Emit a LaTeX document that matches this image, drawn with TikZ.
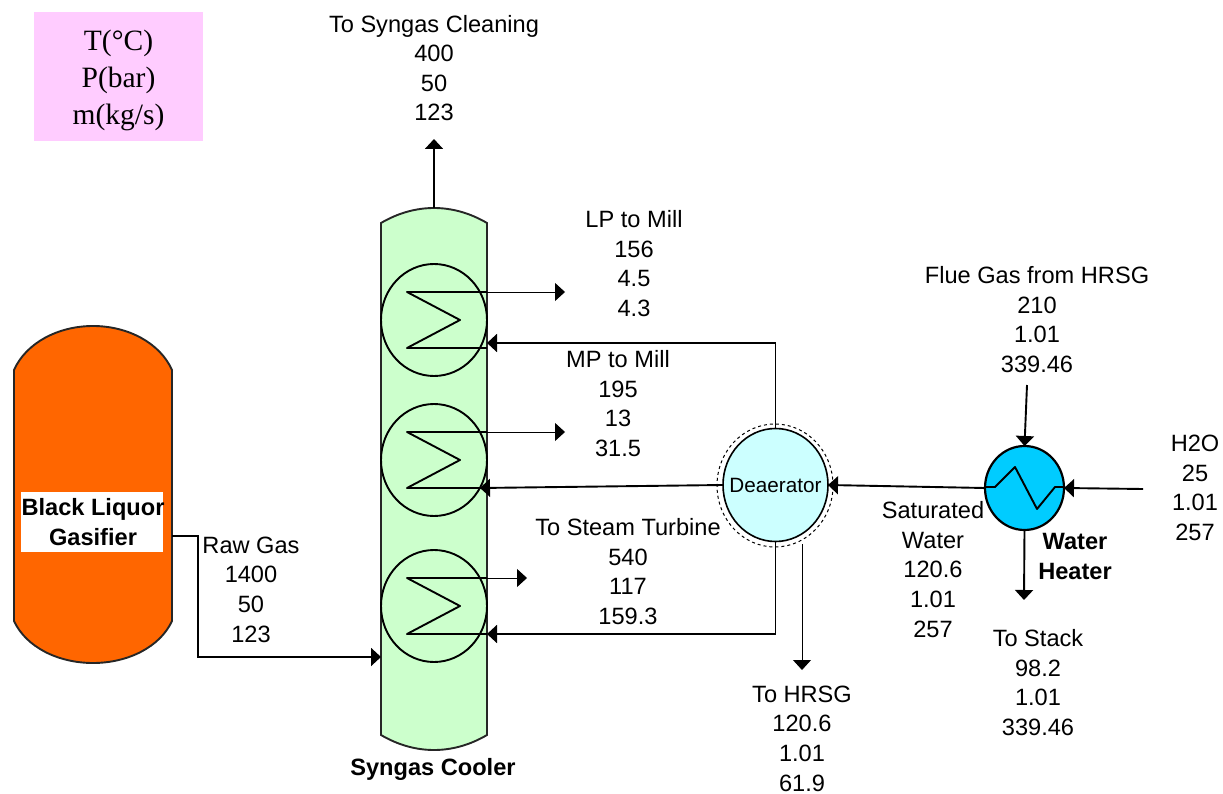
\documentclass[tikz,border=0pt]{standalone}
\usepackage{fontspec}
\setmainfont{Liberation Sans}
\newfontfamily\serifbox{Liberation Serif}
\usetikzlibrary{arrows.meta,shapes.geometric}
\definecolor{gasorange}{HTML}{FF6600}
\definecolor{coolgreen}{HTML}{CCFFCC}
\definecolor{deacyan}{HTML}{CCFFFF}
\definecolor{heatblue}{HTML}{00CCFF}
\definecolor{keypink}{HTML}{FFCCFF}
\tikzset{
  x=1pt,y=-1pt,
  tip/.style={-{Triangle[length=10pt,width=18pt]}},
  main/.style={line width=1.9pt,draw=black},
  thin line/.style={line width=0.9pt,draw=black},
  vessel/.style={line width=1.9pt,draw=black!85},
  coil/.style={line width=1.9pt,draw=black,line join=round},
  hxcirc/.style={ellipse,draw=black,line width=1.9pt,inner sep=0pt,outer sep=0pt,minimum width=106pt,minimum height=112pt},
  lab/.style={align=center,inner sep=0pt,font=\fontsize{23.6}{29.6}\selectfont},
  blab/.style={align=center,inner sep=0pt,font=\fontsize{23.6}{29.6}\selectfont\bfseries},
}
\begin{document}
\begin{tikzpicture}
\useasboundingbox (0,0) rectangle (1223,794);
% legend
\node[fill=keypink,minimum width=169pt,minimum height=129pt,inner sep=0pt,anchor=north west] (legend) at (34,12) {};
\node[align=center,inner sep=0pt,font=\serifbox\fontsize{29.5}{37}\selectfont] (legendtext) at (118.5,80) {T(°C)\\P(bar)\\m(kg/s)};
% gasifier
\draw[vessel,fill=gasorange] (14,370) .. controls (26,343) and (58,326) .. (93,326) .. controls (128,326) and (160,343) .. (172,370) -- (172,621) .. controls (160,647) and (128,663) .. (93,663) .. controls (58,663) and (26,647) .. (14,621) -- cycle;
\node[fill=white,minimum width=142pt,minimum height=60pt,inner sep=0pt] (gaslabelbg) at (92,522) {};
\node[blab] (gaslabel) at (93,522) {Black Liquor\\Gasifier};
\coordinate (gasout) at (172,536);
\coordinate (rawbend1) at (198,536);
\coordinate (rawbend2) at (198,657);
\coordinate (coolin) at (381,657);
% cooler
\draw[vessel,fill=coolgreen] (381,223) .. controls (398,213) and (416,208) .. (434,208) .. controls (452,208) and (470,213) .. (487,223) -- (487,735) .. controls (470,745) and (452,750) .. (434,750) .. controls (416,750) and (398,745) .. (381,735) -- cycle;
\coordinate (cooltop) at (434,208);
\coordinate (cleantip) at (434,139);
\node[hxcirc] (hxa) at (434,320) {};
\node[hxcirc] (hxb) at (434,460) {};
\node[hxcirc] (hxc) at (434,606) {};
% coils
\draw[coil] (487,292) -- (407,292) -- (460,320) -- (407,348) -- (487,348);
\draw[coil] (487,432) -- (407,432) -- (460,460) -- (407,488) -- (487,488);
\draw[coil] (487,578) -- (407,578) -- (460,606) -- (407,634) -- (487,634);
\coordinate (aout) at (487,292);
\coordinate (bout) at (487,432);
\coordinate (cout) at (487,578);
\coordinate (aoutend) at (565,292);
\coordinate (boutend) at (565,432);
\coordinate (coutend) at (527,578);
\coordinate (ain) at (487,343);
\coordinate (bin) at (480,488);
\coordinate (cin) at (487,634);
% deaerator
\node[ellipse,draw=black,dashed,line width=1pt,inner sep=0pt,minimum width=116pt,minimum height=123pt] (deaouter) at (775,485.5) {};
\node[ellipse,draw=black,fill=deacyan,line width=1.6pt,inner sep=0pt,outer sep=0pt,minimum width=105pt,minimum height=113pt] (dea) at (775.5,485) {};
\node[inner sep=0pt,font=\fontsize{20.7}{24}\selectfont] (dealabel) at (775.5,485) {Deaerator};
\coordinate (deabendtop) at (775.5,343);
\coordinate (deabendbot) at (775.5,634);
\coordinate (hrsgstart) at (802,544);
\coordinate (hrsgtip) at (802,670);
% heater
\node[ellipse,draw=black,fill=heatblue,line width=2.2pt,inner sep=0pt,outer sep=0pt,minimum width=79pt,minimum height=84pt] (heater) at (1024.5,488) {};
\draw[coil] (985,487) -- (995,487) -- (1015,467) -- (1037,509) -- (1055,487) -- (1064,487);
\coordinate (fluestart) at (1027,385);
\coordinate (h2ostart) at (1143,489);
\coordinate (stacktip) at (1024,600);
% connectors
\draw[main,tip] (gasout) -- (rawbend1) -- (rawbend2) -- (coolin);
\draw[main,tip] (cooltop) -- (cleantip);
\draw[thin line,tip] (aout) -- (aoutend);
\draw[thin line,tip] (bout) -- (boutend);
\draw[thin line,tip] (cout) -- (coutend);
\draw[main,tip] (dea.north) -- (deabendtop) -- (ain);
\draw[main,tip] (dea.west) -- (bin);
\draw[main,tip] (dea.south) -- (deabendbot) -- (cin);
\draw[thin line,tip] (hrsgstart) -- (hrsgtip);
\draw[main,tip] (heater.west) -- (dea.east);
\draw[main,tip] (h2ostart) -- (heater.east);
\draw[main,tip] (fluestart) -- (heater.north);
\draw[main,tip] (heater.south) -- (stacktip);
% labels
\node[lab] (lclean) at (434,68) {To Syngas Cleaning\\400\\50\\123};
\node[lab] (llp) at (634,263.5) {LP to Mill\\156\\4.5\\4.3};
\node[lab] (lmp) at (618,403.5) {MP to Mill\\195\\13\\31.5};
\node[lab] (lst) at (628,571.5) {To Steam Turbine\\540\\117\\159.3};
\node[lab] (lraw) at (251,589.5) {Raw Gas\\1400\\50\\123};
\node[lab] (lsat) at (933,569.5) {Saturated\\Water\\120.6\\1.01\\257};
\node[lab] (lflue) at (1037,319.5) {Flue Gas from HRSG\\210\\1.01\\339.46};
\node[lab] (lh2o) at (1195,488) {H2O\\25\\1.01\\257};
\node[lab] (lstack) at (1038,682.5) {To Stack\\98.2\\1.01\\339.46};
\node[lab] (lhrsg) at (802,738.5) {To HRSG\\120.6\\1.01\\61.9};
\node[blab] (lheater) at (1075,556.5) {Water\\Heater};
\node[blab] (lcooler) at (433,769) {Syngas Cooler};
\end{tikzpicture}
\end{document}
